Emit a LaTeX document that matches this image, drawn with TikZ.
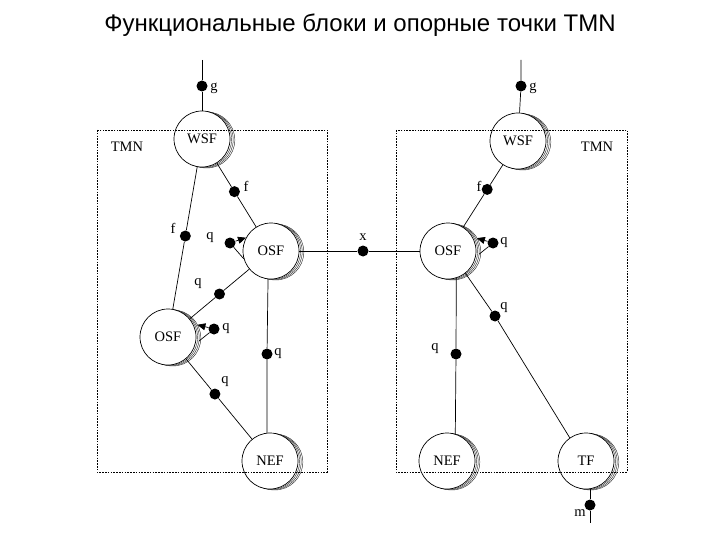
\documentclass[tikz,border=0pt]{standalone}
\usepackage{fontspec}
\setmainfont{Liberation Serif}
\newfontfamily\titlefont{Liberation Sans}
\usetikzlibrary{shadows,calc,arrows.meta}
\begin{document}
\begin{tikzpicture}[x=1pt,y=-1pt,
  lw/.style={line width=0.7pt},
  fn/.style={circle, draw, lw, fill=white, minimum size=56pt, inner sep=0pt, font=\fontsize{14.5}{16}\selectfont,
    general shadow={draw=black!80,fill=white,line width=0.45pt,shadow xshift=4.8pt,shadow yshift=-1pt},
    general shadow={draw=black!80,fill=white,line width=0.45pt,shadow xshift=3.2pt,shadow yshift=-0.7pt},
    general shadow={draw=black!80,fill=white,line width=0.45pt,shadow xshift=1.6pt,shadow yshift=-0.35pt}},
  pt/.style={circle, fill=black, minimum size=11pt, inner sep=0pt},
  lbl/.style={font=\fontsize{14.5}{16}\selectfont, inner sep=0pt},
  conn/.style={lw},
  loop/.style={lw, -{Triangle[length=8pt,width=7pt]}},
  box/.style={line width=0.8pt, dash pattern=on 1.6pt off 1.2pt}
]
\useasboundingbox (0,0) rectangle (720,540);
\node[font=\titlefont\fontsize{24}{28}\selectfont] (title) at (360,25) {Функциональные блоки и опорные точки TMN};

% function blocks
\node[fn] (wsfL) at (202,139) {WSF};
\node[fn] (osfL) at (271,251) {OSF};
\node[fn] (osfLo) at (168,337) {OSF};
\node[fn] (nefL) at (270,461) {NEF};
\node[fn] (wsfR) at (518,141) {WSF};
\node[fn] (osfR) at (448,251) {OSF};
\node[fn] (nefR) at (447,461) {NEF};
\node[fn] (tf) at (586,461) {TF};

% free ends
\coordinate (gLtop) at (202,60);
\coordinate (gRtop) at (521,60);
\coordinate (mbot) at (590,523);

% reference points
\node[pt] (pgL) at (202,86) {};
\node[pt] (pgR) at (521,86) {};
\node[pt] (pf1) at ($(wsfL)!0.47!(osfL)$) {};
\node[pt] (pf2) at ($(wsfL)!0.49!(osfLo)$) {};
\node[pt] (pq1) at ($(osfL)!0.50!(osfLo)$) {};
\node[pt] (pqLoopL) at (230,243) {};
\node[pt] (pqLoopLo) at (214,329) {};
\node[pt] (pq2) at ($(osfLo)!0.46!(nefL)$) {};
\node[pt] (pq3) at (267,354) {};
\node[pt] (px) at (363,251) {};
\node[pt] (pf3) at ($(wsfR)!0.44!(osfR)$) {};
\node[pt] (pqLoopR) at (493,243) {};
\node[pt] (pq4) at (456,354) {};
\node[pt] (pq5) at (495,316) {};
\node[pt] (pm) at (590,505) {};

% connectors
\draw[conn] (gLtop) -- (pgL) -- (wsfL);
\draw[conn] (gRtop) -- (pgR) -- (wsfR);
\draw[conn] (wsfL) -- (pf1) -- (osfL);
\draw[conn] (wsfL) -- (pf2) -- (osfLo);
\draw[conn] (osfL) -- (pq1) -- (osfLo);
\draw[conn] (osfLo) -- (pq2) -- (nefL);
\draw[conn] (osfL.-96) -- (pq3) -- (nefL.96);
\draw[conn] (osfL) -- (px) -- (osfR);
\draw[conn] (wsfR) -- (pf3) -- (osfR);
\draw[conn] (osfR.-73) -- (pq4) -- (nefR.73);
\draw[conn] (osfR.-52) -- (pq5) -- (tf.125);
\draw[conn] (tf.south -| mbot) -- (pm) -- (mbot);
% self loops
\draw[loop] (pqLoopL) -- (osfL.152);
\draw[conn] (pqLoopL) -- (osfL.196);
\draw[loop, shorten >=4.5pt] (pqLoopLo) -- (osfLo.28);
\draw[conn, shorten >=4.5pt] (pqLoopLo) -- (osfLo.-14);
\draw[loop, shorten >=4.5pt] (pqLoopR) -- (osfR.30);
\draw[conn, shorten >=4.5pt] (pqLoopR) -- (osfR.-12);

% labels
\node[lbl] (lg1) at (214,88) {g};
\node[lbl] (lg2) at (533,88) {g};
\node[lbl] (lf1) at (246,186) {f};
\node[lbl] (lf2) at (173,228) {f};
\node[lbl] (lq1) at (210,238) {q};
\node[lbl] (lq2) at (198,284) {q};
\node[lbl] (lq3) at (226,329) {q};
\node[lbl] (lq4) at (225,382) {q};
\node[lbl] (lq5) at (278,354) {q};
\node[lbl] (lx) at (363,237) {x};
\node[lbl] (lf3) at (479,186) {f};
\node[lbl] (lq6) at (504,243) {q};
\node[lbl] (lq7) at (435,349) {q};
\node[lbl] (lq8) at (504,308) {q};
\node[lbl] (lm) at (580,513) {m};
\node[lbl] (tmnL) at (127,147) {TMN};
\node[lbl] (tmnR) at (597,147) {TMN};

% TMN boundaries
\draw[box] (97,130) rectangle (327,472);
\draw[box] (396,130) rectangle (627,472);
\end{tikzpicture}
\end{document}
